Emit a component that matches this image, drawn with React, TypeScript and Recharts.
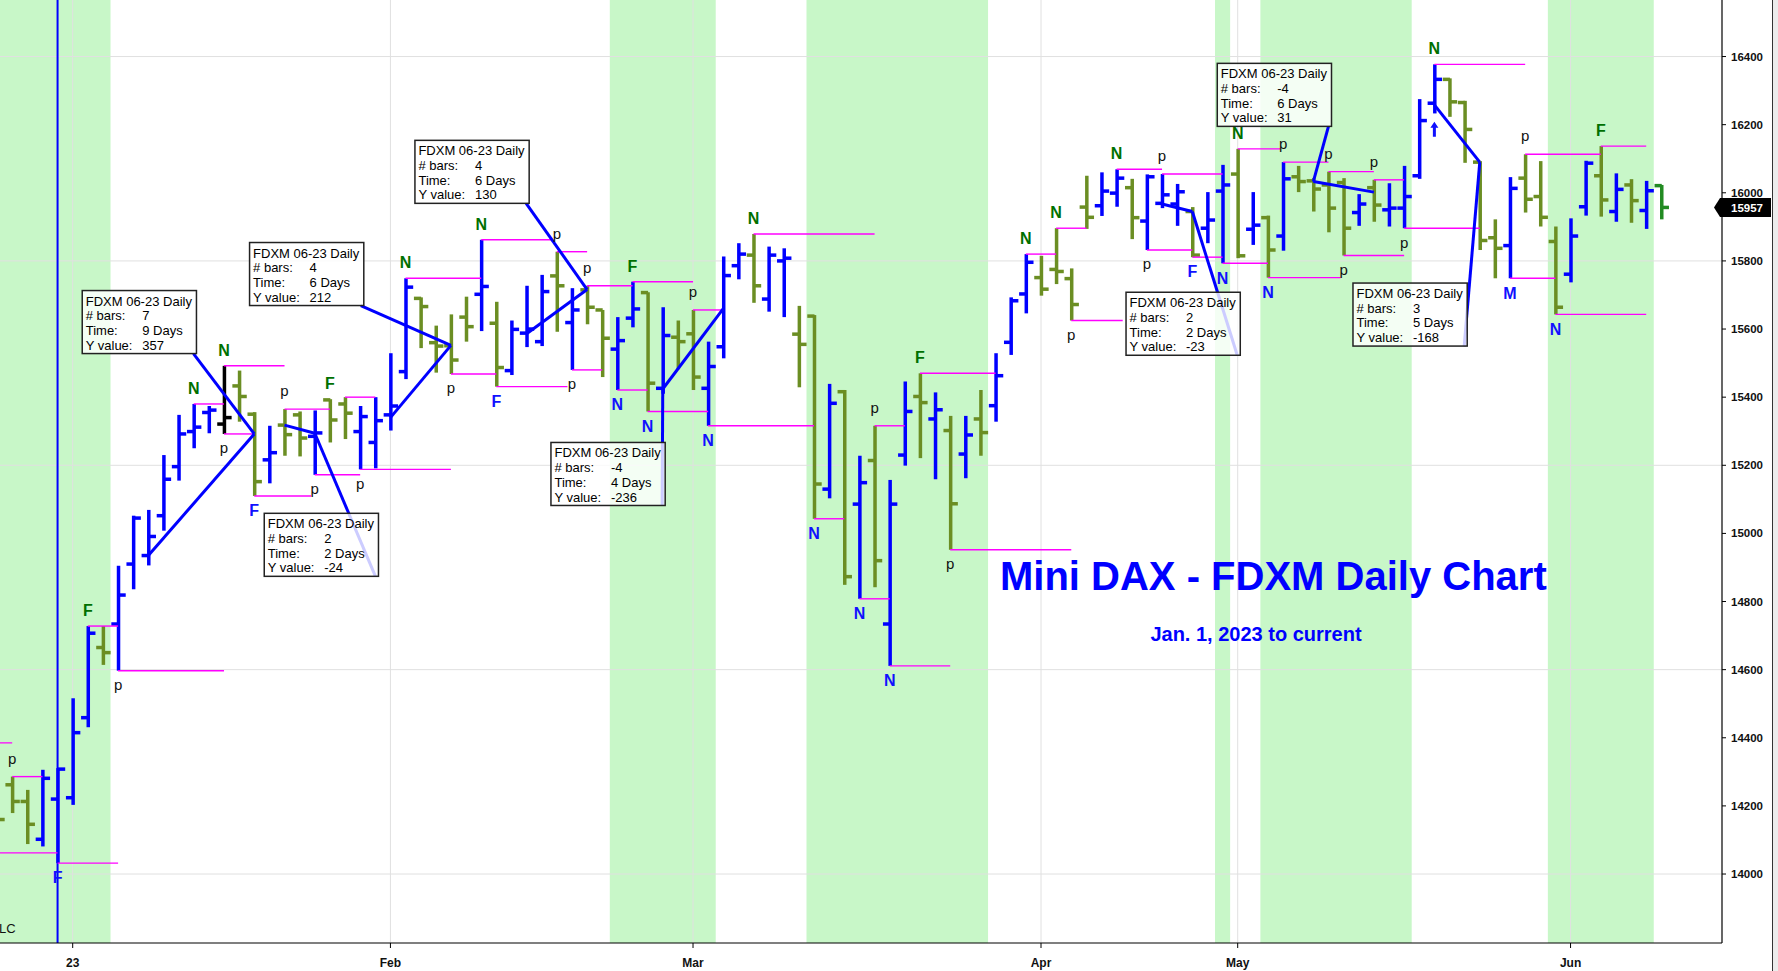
import React from 'react'
import {
  ComposedChart, Bar, Scatter, XAxis, YAxis, ReferenceArea, ReferenceLine,
} from 'recharts'

const FONT = '"Liberation Sans", Arial, Helvetica, sans-serif'

// FDXM 06-23 daily bars, bar 0 = late Dec 2022, bar 5 = first bar of 2023
const opens = [
  14200, 14262, 14213, 14102, 14220, 14224, 14459, 14665, 14734, 14910,
  14935, 15052, 15196, 15299, 15355, 15321, 15433, 15350, 15216, 15318,
  15348, 15285, 15392, 15380, 15299, 15267, 15348, 15475, 15690, 15560,
  15551, 15635, 15702, 15617, 15478, 15588, 15563, 15756, 15619, 15715,
  15656, 15541, 15632, 15707, 15426, 15576, 15586, 15426, 15548, 15786,
  15817, 15688, 15800, 15585, 15638, 15130, 15416, 15086, 15214, 14734,
  15230, 15402, 15336, 15302, 15233, 15336, 15375, 15561, 15703, 15751,
  15775, 15748, 15958, 15962, 15999, 16015, 15917, 15969, 15967, 15945,
  15896, 16005, 16055, 15893, 15927, 15873, 16047, 16035, 16023, 16030,
  15942, 16015, 15950, 15955, 16050, 16263, 16333, 16265, 16090, 15868,
  15845, 16043, 15989, 15857, 15761, 15959, 16050, 15945, 16023, 15948,
  16021,
]
const highs = [
  14260, 14286, 14247, 14306, 14311, 14516, 14728, 14728, 14905, 15052,
  15069, 15230, 15348, 15380, 15374, 15492, 15478, 15356, 15316, 15365,
  15358, 15361, 15394, 15400, 15374, 15400, 15529, 15749, 15693, 15610,
  15643, 15695, 15862, 15680, 15625, 15727, 15759, 15827, 15720, 15727,
  15656, 15635, 15739, 15708, 15664, 15625, 15656, 15563, 15813, 15852,
  15879, 15842, 15837, 15668, 15641, 15439, 15421, 15228, 15316, 15157,
  15446, 15470, 15414, 15345, 15345, 15421, 15529, 15693, 15820, 15815,
  15896, 15778, 16050, 16060, 16069, 16041, 16054, 16055, 16026, 15958,
  16002, 16082, 16129, 16002, 15933, 16090, 16079, 16043, 16062, 16043,
  15996, 16038, 16028, 16079, 16275, 16377, 16336, 16270, 16093, 15922,
  16046, 16113, 16093, 15901, 15925, 16094, 16137, 16057, 16040, 16035,
  16023,
]
const lows = [
  14130, 14179, 14088, 14081, 14032, 14203, 14431, 14614, 14597, 14836,
  14906, 15008, 15155, 15250, 15294, 15292, 15328, 15110, 15147, 15228,
  15226, 15172, 15267, 15277, 15188, 15191, 15302, 15453, 15544, 15472,
  15468, 15563, 15594, 15431, 15465, 15547, 15550, 15592, 15480, 15614,
  15459, 15421, 15605, 15358, 15410, 15482, 15421, 15316, 15514, 15746,
  15677, 15651, 15635, 15429, 15043, 15103, 14849, 14808, 14842, 14611,
  15199, 15221, 15159, 14952, 15162, 15228, 15328, 15524, 15646, 15698,
  15732, 15625, 15894, 15932, 15959, 15864, 15832, 15955, 15903, 15811,
  15852, 15793, 15808, 15847, 15751, 15830, 16002, 15945, 15884, 15816,
  15903, 15915, 15901, 15896, 16041, 16233, 16223, 16088, 15832, 15749,
  15749, 15942, 15901, 15643, 15737, 15933, 15930, 15915, 15912, 15894,
  15922,
]
const closes = [
  14160, 14213, 14146, 14281, 14308, 14415, 14707, 14650, 14819, 15045,
  14991, 15159, 15292, 15312, 15362, 15340, 15402, 15152, 15237, 15290,
  15280, 15295, 15333, 15353, 15343, 15331, 15374, 15723, 15666, 15550,
  15509, 15607, 15725, 15487, 15599, 15600, 15710, 15727, 15656, 15664,
  15573, 15566, 15659, 15441, 15581, 15563, 15459, 15490, 15757, 15820,
  15727, 15817, 15808, 15555, 15145, 15382, 14873, 15149, 14920, 15086,
  15358, 15384, 15363, 15087, 15289, 15296, 15463, 15683, 15796, 15717,
  15769, 15672, 15928, 16005, 16043, 15927, 16047, 15994, 16003, 15817,
  15920, 16023, 15815, 15905, 15832, 16041, 16033, 16011, 15955, 15896,
  15967, 15964, 15955, 15989, 16212, 16333, 16267, 16186, 15860, 15837,
  16013, 15981, 15928, 15664, 15873, 16087, 15979, 16010, 15977, 16006,
  15957,
]

const monthTicks = [5, 26, 46, 69, 82, 104]
const monthLabels = ['23', 'Feb', 'Mar', 'Apr', 'May', 'Jun']
const priceTicks = [14000, 14200, 14400, 14600, 14800, 15000, 15200, 15400, 15600, 15800, 16000, 16200, 16400]
const gridPrices = [14000, 14600, 15200, 15800, 16400]

// shaded sessions, in bar index units
const bands = [[-1, 7.5], [40.5, 47.5], [53.5, 65.5], [80.5, 81.5], [83.5, 93.5], [102.5, 109.5]]

// pivot levels: from bar, to index, bar high or low
const levels: [number, number, string][] = [
  [1, 3, 'h'], [4, 8, 'l'], [6, 8, 'h'], [8, 15, 'l'], [13, 15, 'h'], [15, 19, 'h'], [15, 17, 'l'],
  [17, 20.75, 'l'], [19, 22, 'h'], [21, 24, 'l'], [23, 25, 'h'], [24, 30, 'l'], [27, 32, 'h'],
  [30, 33, 'l'], [32, 36.75, 'h'], [33, 37.7, 'l'], [37, 39, 'h'], [38, 40, 'l'], [39, 42, 'h'],
  [41, 43, 'l'], [42, 46, 'h'], [43, 47, 'l'], [46, 48, 'h'], [47, 54, 'l'], [50, 58, 'h'],
  [54, 56, 'l'], [57, 59, 'l'], [58, 60, 'h'], [59, 63, 'l'], [61, 66, 'h'], [63, 71, 'l'],
  [68, 70, 'h'], [70, 72, 'h'], [71, 74.4, 'l'], [74, 77, 'h'], [76, 79, 'l'], [77, 81, 'h'],
  [79, 81, 'l'], [81, 84, 'l'], [82, 84.8, 'h'], [84, 88.8, 'l'], [85, 88, 'h'], [88, 91, 'h'],
  [89, 93, 'l'], [91, 93, 'h'], [93, 98, 'l'], [95, 101, 'h'], [100, 103, 'l'], [101, 106, 'h'],
  [103, 109, 'l'], [106, 109, 'h'],
]
// levels left over from bars before the visible range
const oldLevels = [[-2, 1, 14385], [-2, 4, 14062]]

// swing marks: bar, letter, above/below, colour
const marks: [number, string, string, string][] = [
  [1, 'p', 'a', 'k'], [4, 'F', 'b', 'b'], [6, 'F', 'a', 'g'], [8, 'p', 'b', 'k'], [13, 'N', 'a', 'g'],
  [15, 'N', 'a', 'g'], [15, 'p', 'b', 'k'], [17, 'F', 'b', 'b'], [19, 'p', 'a', 'k'], [21, 'p', 'b', 'k'],
  [22, 'F', 'a', 'g'], [24, 'p', 'b', 'k'], [27, 'N', 'a', 'g'], [30, 'p', 'b', 'k'], [32, 'N', 'a', 'g'],
  [33, 'F', 'b', 'b'], [37, 'p', 'a', 'k'], [38, 'p', 'b', 'k'], [39, 'p', 'a', 'k'], [41, 'N', 'b', 'b'],
  [42, 'F', 'a', 'g'], [43, 'N', 'b', 'b'], [46, 'p', 'a', 'k'], [47, 'N', 'b', 'b'], [50, 'N', 'a', 'g'],
  [54, 'N', 'b', 'b'], [57, 'N', 'b', 'b'], [58, 'p', 'a', 'k'], [59, 'N', 'b', 'b'], [61, 'F', 'a', 'g'],
  [63, 'p', 'b', 'k'], [68, 'N', 'a', 'g'], [70, 'N', 'a', 'g'], [71, 'p', 'b', 'k'], [74, 'N', 'a', 'g'],
  [76, 'p', 'b', 'k'], [77, 'p', 'a', 'k'], [79, 'F', 'b', 'b'], [81, 'N', 'b', 'b'], [82, 'N', 'a', 'g'],
  [84, 'N', 'b', 'b'], [85, 'p', 'a', 'k'], [88, 'p', 'a', 'k'], [89, 'p', 'b', 'k'], [91, 'p', 'a', 'k'],
  [93, 'p', 'b', 'k'], [95, 'N', 'a', 'g'], [95, '↑', 'b', 'b'], [100, 'M', 'b', 'b'], [101, 'p', 'a', 'k'],
  [103, 'N', 'b', 'b'], [106, 'F', 'a', 'g'],
]

// measuring tool: start, end (bar, price) and the readout
const measures = [
  { a: [10, 14935], b: [17, 15292], bars: '7', days: '9 Days', y: '357' },
  { a: [19, 15318], b: [21, 15294], bars: '2', days: '2 Days', y: '-24' },
  { a: [26, 15340], b: [30, 15552], bars: '4', days: '6 Days', y: '212' },
  { a: [35, 15586], b: [39, 15716], bars: '4', days: '6 Days', y: '130' },
  { a: [48, 15660], b: [44, 15424], bars: '-4', days: '4 Days', y: '-236' },
  { a: [77, 15967], b: [79, 15945], bars: '2', days: '2 Days', y: '-23' },
  { a: [91, 16002], b: [87, 16033], bars: '-4', days: '6 Days', y: '31' },
  { a: [95, 16258], b: [98, 16090], bars: '3', days: '5 Days', y: '-168' },
]
// where each readout box sits (left bar index, top price)
const boxAnchors = [
  [5.63, 15713], [17.66, 15059], [16.69, 15854], [27.62, 16154],
  [36.61, 15267], [74.62, 15708], [80.65, 16380], [89.62, 15735],
]
const BOX_W = 7.55
const BOX_H = 185

const BLUE = '#0000ff'
const OLIVE = '#6b8e23'
const lastClose = closes[closes.length - 1]

const barColor = (i: number, o: number, c: number) => {
  if (i === 15) return '#000000'
  if (i === closes.length - 1) return '#228b22'
  return c > o ? BLUE : OLIVE
}

const OhlcShape = (props: any) => {
  const { x, y, width, height, payload } = props
  if (payload == null || height == null) return null
  const cx = x + width / 2
  const span = payload.h - payload.l
  const k = span === 0 ? 0 : height / span
  const py = (p: number) => y + (payload.h - p) * k
  const col = barColor(payload.i, payload.o, payload.c)
  return (
    <g>
      <rect x={cx - 1.75} y={y} width={3.5} height={Math.max(height, 1)} fill={col} />
      <rect x={cx - 7.2} y={py(payload.o) - 1.75} width={7.2} height={3.5} fill={col} />
      <rect x={cx} y={py(payload.c) - 1.75} width={7.2} height={3.5} fill={col} />
    </g>
  )
}

const markColors: Record<string, string> = { g: '#007000', b: '#1010ff', k: '#111111' }

const MarkShape = (props: any) => {
  const { cx, cy, payload } = props
  if (cx == null || cy == null) return null
  const { t, pos, col } = payload
  const fill = markColors[col]
  if (t === '↑') {
    const top = cy + 8.4
    return (
      <path
        d={`M${cx},${top} L${cx - 4},${top + 6} L${cx - 1.5},${top + 6} L${cx - 1.5},${top + 15} L${cx + 1.5},${top + 15} L${cx + 1.5},${top + 6} L${cx + 4},${top + 6} Z`}
        fill={fill}
      />
    )
  }
  const isP = t === 'p'
  const base = pos === 'a' ? cy - (isP ? 13 : 10) : cy + (isP ? 19.3 : 20.3)
  return (
    <text
      x={cx} y={base} textAnchor="middle" fill={fill} fontFamily={FONT}
      fontSize={isP ? 15 : 16} fontWeight={isP ? 'normal' : 'bold'}
    >
      {t}
    </text>
  )
}

const MonthTick = (props: any) => {
  const { x, y, payload } = props
  const idx = monthTicks.indexOf(payload.value)
  return (
    <text x={x} y={y + 16} textAnchor="middle" fontSize={12} fontWeight="bold" fill="#111" fontFamily={FONT}>
      {monthLabels[idx]}
    </text>
  )
}

const PriceTick = (props: any) => {
  const { x, y, payload } = props
  return (
    <text x={x} y={y + 4} textAnchor="start" fontSize={11.5} fontWeight="bold" fill="#111" fontFamily={FONT}>
      {payload.value}
    </text>
  )
}

const PriceTag = (props: any) => {
  const vb = props.viewBox
  if (!vb) return null
  const ax = vb.x + vb.width
  const y = vb.y
  return (
    <g>
      <path
        d={`M${ax - 8},${y} L${ax - 2},${y - 9.5} L${ax + 49},${y - 9.5} L${ax + 49},${y + 9.5} L${ax - 2},${y + 9.5} Z`}
        fill="#000"
      />
      <text x={ax + 9} y={y + 4.2} fill="#fff" fontSize={11.5} fontWeight="bold" fontFamily={FONT}>
        {lastClose}
      </text>
    </g>
  )
}

const noteBox = (m: typeof measures[number]) => (p: any) => {
  const { x, y, width, height } = p
  const rows = [['# bars:', m.bars], ['Time:', m.days], ['Y value:', m.y]]
  const ts = { fontSize: 13, fill: '#000', fontFamily: FONT }
  return (
    <g>
      <rect x={x} y={y} width={width} height={height} fill="#ffffff" fillOpacity={0.8} stroke="#222" strokeWidth={1.5} />
      <text x={x + 3.5} y={y + 15} {...ts}>FDXM 06-23 Daily</text>
      {rows.map(([k, v], j) => (
        <g key={j}>
          <text x={x + 3.5} y={y + 29.7 + j * 14.7} {...ts}>{k}</text>
          <text x={x + 60} y={y + 29.7 + j * 14.7} {...ts}>{v}</text>
        </g>
      ))}
    </g>
  )
}

export default function App() {
  const data = opens.map((o, i) => ({
    i, o, h: highs[i], l: lows[i], c: closes[i], range: [lows[i], highs[i]],
  }))
  const markData = marks.map(([i, t, pos, col]) => ({
    i, v: pos === 'a' ? highs[i] : lows[i], t, pos, col,
  }))

  return (
    <div style={{ position: 'absolute', left: 0, top: 0, width: 1778, height: 971, background: '#fff', overflow: 'hidden' }}>
      <ComposedChart width={1778} height={971} data={data} margin={{ top: 0, right: 0, bottom: 0, left: 0 }}>
        <XAxis
          type="number" dataKey="i" domain={[0.195, 114.01]} allowDataOverflow
          ticks={monthTicks} interval={0} tick={<MonthTick />} tickSize={5} tickMargin={3} height={28}
          axisLine={{ stroke: '#000', strokeWidth: 1.2 }} tickLine={{ stroke: '#000' }}
        />
        <YAxis
          type="number" orientation="right" width={56} domain={[13797.5, 16566]} allowDataOverflow
          ticks={priceTicks} interval={0} tick={<PriceTick />} tickSize={4} tickMargin={5}
          axisLine={{ stroke: '#000', strokeWidth: 1.2 }} tickLine={{ stroke: '#000' }}
        />

        {bands.map(([a, b], k) => (
          <ReferenceArea key={`band${k}`} x1={a} x2={b} fill="#c8f7c8" fillOpacity={1} stroke="none" ifOverflow="hidden" />
        ))}
        {monthTicks.map(t => (
          <ReferenceLine key={`gx${t}`} x={t} stroke="#e0e0e0" strokeWidth={1} zIndex={150} />
        ))}
        {gridPrices.map(p => (
          <ReferenceLine key={`gy${p}`} y={p} stroke="#e0e0e0" strokeWidth={1} zIndex={150} />
        ))}

        <Bar dataKey="range" barSize={4} shape={OhlcShape} isAnimationActive={false} />

        <ReferenceLine x={4} stroke={BLUE} strokeWidth={2} />

        {levels.map(([from, to, w], k) => {
          const p = w === 'h' ? highs[from] : lows[from]
          return (
            <ReferenceLine
              key={`lv${k}`} segment={[{ x: from, y: p }, { x: to, y: p }]}
              stroke="#ff00ff" strokeWidth={1.4} ifOverflow="visible"
            />
          )
        })}
        {oldLevels.map(([from, to, p], k) => (
          <ReferenceLine
            key={`olv${k}`} segment={[{ x: from, y: p }, { x: to, y: p }]}
            stroke="#ff00ff" strokeWidth={1.4} ifOverflow="visible"
          />
        ))}

        {measures.map((m, k) => (
          <ReferenceLine
            key={`ms${k}`} segment={[{ x: m.a[0], y: m.a[1] }, { x: m.b[0], y: m.b[1] }]}
            stroke={BLUE} strokeWidth={3} ifOverflow="visible"
          />
        ))}
        {measures.map((m, k) => {
          const [bx, by] = boxAnchors[k]
          return (
            <ReferenceLine
              key={`cn${k}`} segment={[{ x: m.b[0], y: m.b[1] }, { x: bx + BOX_W - 0.2, y: by - BOX_H }]}
              stroke={BLUE} strokeWidth={3} ifOverflow="visible"
            />
          )
        })}

        <Scatter data={markData} dataKey="v" shape={MarkShape} isAnimationActive={false} />

        {measures.map((m, k) => {
          const [bx, by] = boxAnchors[k]
          return (
            <ReferenceArea
              key={`bx${k}`} x1={bx} x2={bx + BOX_W} y1={by - BOX_H} y2={by}
              shape={noteBox(m)} ifOverflow="visible" zIndex={700}
            />
          )
        })}

        <ReferenceLine y={lastClose} stroke="none" label={<PriceTag />} />
      </ComposedChart>

      <svg width={1778} height={971} style={{ position: 'absolute', left: 0, top: 0, pointerEvents: 'none' }}>
        <text x={1000} y={590} fill={BLUE} fontSize={40} fontWeight="bold" fontFamily={FONT}>
          Mini DAX - FDXM Daily Chart
        </text>
        <text x={1256} y={641} fill={BLUE} fontSize={20} fontWeight="bold" fontFamily={FONT} textAnchor="middle">
          Jan. 1, 2023 to current
        </text>
        <text x={-1} y={933} fill="#111" fontSize={13} fontFamily={FONT}>LC</text>
      </svg>
      <div style={{ position: 'absolute', left: 1772, top: 0, width: 6, height: 971, background: '#ececec', borderLeft: '1px solid #333' }} />
    </div>
  )
}
